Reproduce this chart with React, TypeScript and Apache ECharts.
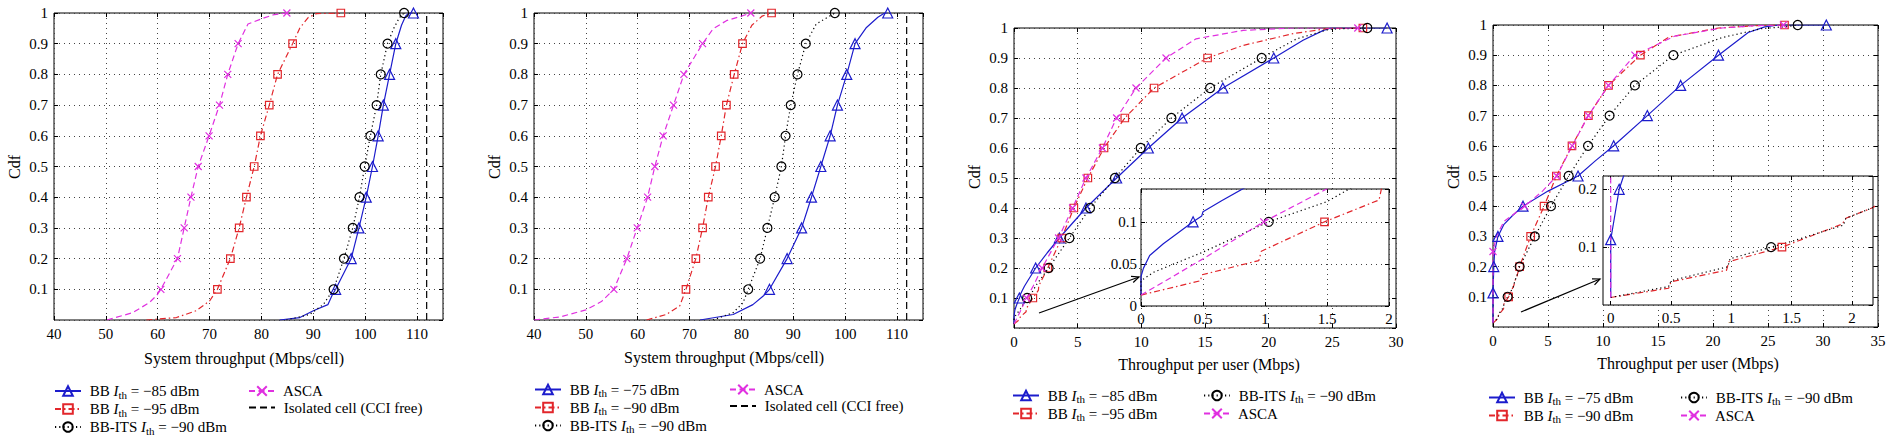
import React, { useEffect, useRef } from 'react';
import * as echarts from 'echarts';

type P = [number, number];

// ---------------- Panel 1 (System throughput, set A) ----------------
const p1Bb85Line: P[] = [[83.5, 0], [87.4, 0.008], [90, 0.03], [92.8, 0.05], [93.6, 0.08], [107, 0.96], [107.8, 0.99], [108.4, 1]];
const p1Bb85Marks: P[] = [[94.3, 0.1], [97.3, 0.2], [98.8, 0.3], [100.2, 0.4], [101.4, 0.5], [102.5, 0.6], [103.5, 0.7], [104.7, 0.8], [105.9, 0.9], [109.3, 1]];
const p1Bb95Line: P[] = [[57.8, 0], [63.6, 0.008], [67.4, 0.03], [70, 0.062], [87.4, 0.951], [89, 0.985], [90.6, 0.998]];
const p1Bb95Marks: P[] = [[71.5, 0.1], [74, 0.2], [75.7, 0.3], [77.1, 0.4], [78.6, 0.5], [79.8, 0.6], [81.5, 0.7], [83.1, 0.8], [86, 0.9], [95.3, 1]];
const p1ItsLine: P[] = [[84.8, 0], [89.3, 0.018], [91.9, 0.05], [105.5, 0.95], [106.6, 0.985]];
const p1ItsMarks: P[] = [[93.9, 0.1], [95.9, 0.2], [97.6, 0.3], [98.9, 0.4], [99.9, 0.5], [101, 0.6], [102.2, 0.7], [103, 0.8], [104.3, 0.9], [107.5, 1]];
const p1AscaLine: P[] = [[50.2, 0], [55.2, 0.024], [58.4, 0.057], [59.8, 0.08], [77.4, 0.964], [80.3, 0.983], [82.5, 0.995]];
const p1AscaMarks: P[] = [[60.6, 0.1], [63.8, 0.2], [65.1, 0.3], [66.4, 0.4], [67.8, 0.5], [69.9, 0.6], [71.9, 0.7], [73.5, 0.8], [75.5, 0.9], [84.9, 1]];
const isolatedCell: P[] = [[111.85, 0], [111.85, 1]];

// ---------------- Panel 2 (System throughput, set B) ----------------
const p2Bb75Line: P[] = [[72, 0], [78.4, 0.018], [82.2, 0.05], [84.2, 0.078], [104.1, 0.953], [106.3, 0.986], [107.6, 1]];
const p2Bb75Marks: P[] = [[85.4, 0.1], [88.8, 0.2], [91.6, 0.3], [93.5, 0.4], [95.3, 0.5], [97.1, 0.6], [98.5, 0.7], [100.3, 0.8], [101.9, 0.9], [108.2, 1]];
const p2Bb90Line: P[] = [[61.7, 0], [65.5, 0.018], [68.1, 0.046], [82, 0.96], [84, 0.99]];
const p2Bb90Marks: P[] = [[69.3, 0.1], [71.2, 0.2], [72.5, 0.3], [73.6, 0.4], [75, 0.5], [76.1, 0.6], [77.1, 0.7], [78.6, 0.8], [80.2, 0.9], [85.8, 1]];
const p2ItsLine: P[] = [[74.5, 0], [78.4, 0.024], [80.3, 0.056], [94.4, 0.964], [97, 0.99]];
const p2ItsMarks: P[] = [[81.3, 0.1], [83.6, 0.2], [85, 0.3], [86.4, 0.4], [87.7, 0.5], [88.5, 0.6], [89.5, 0.7], [90.8, 0.8], [92.4, 0.9], [98, 1]];
const p2AscaLine: P[] = [[40, 0], [45, 0.01], [50, 0.033], [53, 0.06], [74.5, 0.948], [77.1, 0.975], [80, 0.99]];
const p2AscaMarks: P[] = [[55.4, 0.1], [57.9, 0.2], [59.9, 0.3], [61.9, 0.4], [63.3, 0.5], [64.9, 0.6], [66.9, 0.7], [68.9, 0.8], [72.5, 0.9], [81.8, 1]];

// ---------------- Panel 3 (Throughput per user, set A) ----------------
const p3Bb85Line: P[] = [[0, 0.013], [0, 0.035], [0.02, 0.045], [0.07, 0.06], [0.18, 0.074], [0.3, 0.087], [0.49, 0.107], [0.5, 0.112], [0.65, 0.125], [0.83, 0.14], [2.6, 0.25], [22.7, 0.959], [24.3, 0.992], [24.9, 1]];
const p3Bb85Marks: P[] = [[0.42, 0.1], [1.7, 0.2], [3.56, 0.3], [5.65, 0.4], [8.06, 0.5], [10.55, 0.6], [13.2, 0.7], [16.4, 0.8], [20.4, 0.9], [29.3, 1]];
const p3Bb95Line: P[] = [[0, 0.013], [0.48, 0.03], [0.49, 0.037], [0.95, 0.054], [0.97, 0.065], [1.92, 0.126], [1.94, 0.14], [18, 0.942], [21.9, 0.981], [24.6, 0.998]];
const p3Bb95Marks: P[] = [[1.48, 0.1], [2.65, 0.2], [3.75, 0.3], [4.7, 0.4], [5.8, 0.5], [7.07, 0.6], [8.7, 0.7], [11, 0.8], [15.2, 0.9], [27.4, 1]];
const p3ItsLine: P[] = [[0, 0.013], [0, 0.03], [0.1, 0.04], [0.5, 0.064], [1.5, 0.124], [1.69, 0.14], [22.2, 0.964], [24.8, 0.996]];
const p3ItsMarks: P[] = [[1.03, 0.1], [2.72, 0.2], [4.35, 0.3], [5.97, 0.4], [7.93, 0.5], [9.95, 0.6], [12.36, 0.7], [15.4, 0.8], [19.45, 0.9], [27.75, 1]];
const p3AscaLine: P[] = [[0, 0.013], [0.5, 0.056], [1.51, 0.14], [14.3, 0.964], [18, 0.992], [21.9, 1]];
const p3AscaMarks: P[] = [[0.99, 0.1], [2.2, 0.2], [3.5, 0.3], [4.6, 0.4], [5.65, 0.5], [6.94, 0.6], [8.06, 0.7], [9.58, 0.8], [11.94, 0.9], [27, 1]];

// ---------------- Panel 4 (Throughput per user, set B) ----------------
const p4Bb75Line: P[] = [[0, 0.013], [0.03, 0.15], [0.15, 0.25], [1, 0.34], [1.8, 0.37], [5, 0.45], [9.3, 0.55], [23.2, 0.975], [24.7, 0.994], [26, 1]];
const p4Bb75Marks: P[] = [[0, 0.113], [0.07, 0.2], [0.45, 0.3], [2.73, 0.4], [7.73, 0.5], [10.97, 0.6], [14.03, 0.7], [17.06, 0.8], [20.5, 0.9], [30.3, 1]];
const p4Bb90Line: P[] = [[0, 0.013], [0.48, 0.029], [0.5, 0.04], [0.96, 0.06], [0.98, 0.075], [1.92, 0.14], [1.95, 0.15], [2.17, 0.168], [16, 0.96], [20.5, 0.99], [24, 0.998]];
const p4Bb90Marks: P[] = [[1.42, 0.1], [2.42, 0.2], [3.42, 0.3], [4.64, 0.4], [5.76, 0.5], [7.18, 0.6], [8.67, 0.7], [10.5, 0.8], [13.4, 0.9], [26.5, 1]];
const p4ItsLine: P[] = [[0, 0.013], [0.48, 0.032], [0.5, 0.042], [0.97, 0.066], [0.99, 0.08], [1.5, 0.11], [1.93, 0.138], [1.95, 0.15], [2.17, 0.168], [20.8, 0.958], [24.4, 0.988], [26.8, 0.995]];
const p4ItsMarks: P[] = [[1.33, 0.1], [2.42, 0.2], [3.8, 0.3], [5.27, 0.4], [6.88, 0.5], [8.64, 0.6], [10.6, 0.7], [12.9, 0.8], [16.4, 0.9], [27.7, 1]];
const p4AscaLine: P[] = [[0, 0.013], [0.3, 0.3], [1, 0.35], [4.5, 0.45], [16.5, 0.963], [20.8, 0.99], [24, 0.998]];
const p4AscaMarks: P[] = [[0, 0.25], [2.88, 0.4], [5.8, 0.5], [7.2, 0.6], [8.67, 0.7], [10.5, 0.8], [12.9, 0.9], [26.4, 1]];

// inset tick labels (panel 4 inset axis starts slightly left of 0)
const inset4XTicks = [0, 0.5, 1, 1.5, 2];

// ---------------- Names ----------------
const N_BB85 = 'BB Ith = −85 dBm';
const N_BB95 = 'BB Ith = −95 dBm';
const N_BB75 = 'BB Ith = −75 dBm';
const N_BB90 = 'BB Ith = −90 dBm';
const N_ITS = 'BB-ITS Ith = −90 dBm';
const N_ASCA = 'ASCA';
const N_ISO = 'Isolated cell (CCI free)';

const X_NAME_CELL = 'System throughput (Mbps/cell)';
const X_NAME_USER = 'Throughput per user (Mbps)';
const Y_NAME = 'Cdf';

const FONT = "'Liberation Serif', 'DejaVu Serif', serif";
const BLUE = '#1c1ccc';
const RED = '#e2262b';
const BLACK = '#000000';
const MAGENTA = '#e030e0';

type Sty = { color: string; dash: any; symbol: string; size: number };
const S_BB1: Sty = { color: BLUE, dash: 'solid', symbol: 'triangle', size: 10 };
const S_BB2: Sty = { color: RED, dash: [6, 3, 1.5, 3], symbol: 'rect', size: 7.5 };
const S_ITS: Sty = { color: BLACK, dash: [1.2, 3], symbol: 'circle', size: 9 };
const S_ASCA: Sty = { color: MAGENTA, dash: [6, 3.5], symbol: 'path://M0,0L10,10M10,0L0,10', size: 7 };

function merge(line: P[], marks: P[]) {
  const items: any[] = [
    ...line.map((p) => ({ value: p, symbol: 'none' })),
    ...marks.map((p) => ({ value: p })),
  ];
  items.sort((a, b) => a.value[1] - b.value[1] || a.value[0] - b.value[0]);
  return items;
}

export default function App() {
  const ref = useRef<HTMLDivElement>(null);
  useEffect(() => {
    if (!ref.current) return;
    const chart = echarts.init(ref.current, undefined, { renderer: 'svg' });

    const grids: any[] = [];
    const xAxes: any[] = [];
    const yAxes: any[] = [];
    const series: any[] = [];
    const texts: any[] = [];

    const labelStyle = { color: '#000', fontFamily: FONT, fontSize: 15, fontWeight: 'normal' };
    const tick = { show: true, inside: true, length: 4, lineStyle: { color: '#000', width: 1 } };
    const split = { show: true, lineStyle: { color: '#444', width: 1, type: [1, 4] } };

    const addText = (text: string, x: number, y: number, rotation = 0) => {
      texts.push({
        type: 'text', x, y, rotation, z: 100, silent: true,
        style: { text, fill: '#000', fontFamily: FONT, fontSize: 16, fontWeight: 'normal', align: 'center', verticalAlign: 'middle', textAlign: 'center', textVerticalAlign: 'middle' },
      });
    };

    function addGrid(c: any) {
      const gi = grids.length;
      const z = c.z;
      grids.push({ left: c.left, top: c.top, width: c.width, height: c.height, show: true, borderColor: '#000', borderWidth: 1, backgroundColor: '#fff', z });
      const xi = xAxes.length;
      const xLabel: any = { ...labelStyle, margin: c.xMargin ?? 6, showMinLabel: c.xShowMin ?? true, showMaxLabel: c.xShowMax ?? true };
      const xTick: any = { ...tick };
      if (c.xCustom) {
        xLabel.customValues = c.xCustom;
        xTick.customValues = c.xCustom;
      }
      const xb: any = {
        type: 'value', gridIndex: gi, position: 'bottom', min: c.xmin, max: c.xmax, z: z + 1,
        axisLine: { show: false, onZero: false }, axisTick: xTick,
        axisLabel: xLabel,
        splitLine: split,
      };
      if (c.xint !== undefined) xb.interval = c.xint;
      const xt: any = { ...xb, position: 'top', axisLabel: { show: false }, splitLine: { show: false } };
      xAxes.push(xb, xt);
      const yi = yAxes.length;
      const yl: any = {
        type: 'value', gridIndex: gi, position: 'left', min: c.ymin, max: c.ymax, interval: c.yint, z: z + 1,
        axisLine: { show: false, onZero: false }, axisTick: tick,
        axisLabel: { ...labelStyle, margin: c.yMargin ?? 6, showMinLabel: c.yShowMin ?? false, showMaxLabel: c.yShowMax ?? true },
        splitLine: split,
      };
      const yr: any = { ...yl, position: 'right', axisLabel: { show: false }, splitLine: { show: false } };
      yAxes.push(yl, yr);
      if (c.xname) addText(c.xname, c.xnx, c.xny);
      if (c.yname) addText(c.yname, c.ynx, c.yny, Math.PI / 2);
      return { xi, yi, z };
    }

    function addLine(ax: any, name: string, s: Sty, line: P[], marks: P[]) {
      series.push({
        type: 'line', name, xAxisIndex: ax.xi, yAxisIndex: ax.yi, z: ax.z + 2,
        data: merge(line, marks), symbol: s.symbol, symbolSize: s.size, showSymbol: true, showAllSymbol: true,
        lineStyle: { color: s.color, width: 1.2, type: s.dash },
        itemStyle: { color: 'rgba(255,255,255,0)', borderColor: s.color, borderWidth: 1.2 },
        emphasis: { disabled: true }, silent: true, clip: true, animation: false,
      });
    }
    function addIso(ax: any) {
      series.push({
        type: 'line', name: N_ISO, xAxisIndex: ax.xi, yAxisIndex: ax.yi, z: ax.z + 2,
        data: isolatedCell, symbol: 'none', showSymbol: false,
        lineStyle: { color: BLACK, width: 1.2, type: [7, 4] },
        itemStyle: { color: 'rgba(0,0,0,0)', borderColor: 'rgba(0,0,0,0)', borderWidth: 0 },
        emphasis: { disabled: true }, silent: true, animation: false,
      });
    }

    // Panel 1
    const a1 = addGrid({ left: 54, top: 13, width: 389, height: 307, xmin: 40, xmax: 115, xint: 10, xShowMax: false, ymin: 0, ymax: 1, yint: 0.1, xname: X_NAME_CELL, xnx: 244, xny: 358, yname: Y_NAME, ynx: 14, yny: 167, z: 0 });
    addLine(a1, N_BB85, S_BB1, p1Bb85Line, p1Bb85Marks);
    addLine(a1, N_BB95, S_BB2, p1Bb95Line, p1Bb95Marks);
    addLine(a1, N_ITS, S_ITS, p1ItsLine, p1ItsMarks);
    addLine(a1, N_ASCA, S_ASCA, p1AscaLine, p1AscaMarks);
    addIso(a1);

    // Panel 2
    const a2 = addGrid({ left: 534, top: 13, width: 389, height: 307, xmin: 40, xmax: 115, xint: 10, xShowMax: false, ymin: 0, ymax: 1, yint: 0.1, xname: X_NAME_CELL, xnx: 724, xny: 357, yname: Y_NAME, ynx: 494, yny: 167, z: 0 });
    addLine(a2, N_BB75, S_BB1, p2Bb75Line, p2Bb75Marks);
    addLine(a2, N_BB90, S_BB2, p2Bb90Line, p2Bb90Marks);
    addLine(a2, N_ITS, S_ITS, p2ItsLine, p2ItsMarks);
    addLine(a2, N_ASCA, S_ASCA, p2AscaLine, p2AscaMarks);
    addIso(a2);

    // Panel 3
    const a3 = addGrid({ left: 1014, top: 28, width: 382, height: 300, xmin: 0, xmax: 30, xint: 5, ymin: 0, ymax: 1, yint: 0.1, xname: X_NAME_USER, xnx: 1209, xny: 364, yname: Y_NAME, ynx: 974, yny: 177, z: 0 });
    addLine(a3, N_BB85, S_BB1, p3Bb85Line, p3Bb85Marks);
    addLine(a3, N_BB95, S_BB2, p3Bb95Line, p3Bb95Marks);
    addLine(a3, N_ITS, S_ITS, p3ItsLine, p3ItsMarks);
    addLine(a3, N_ASCA, S_ASCA, p3AscaLine, p3AscaMarks);
    const i3 = addGrid({ left: 1141, top: 189, width: 248, height: 117, xmin: 0, xmax: 2, xint: 0.5, xMargin: 5, ymin: 0, ymax: 0.139, yint: 0.05, yShowMin: true, yShowMax: false, yMargin: 4, z: 3 });
    addLine(i3, N_BB85, S_BB1, p3Bb85Line, p3Bb85Marks);
    addLine(i3, N_BB95, S_BB2, p3Bb95Line, p3Bb95Marks);
    addLine(i3, N_ITS, S_ITS, p3ItsLine, p3ItsMarks);
    addLine(i3, N_ASCA, S_ASCA, p3AscaLine, p3AscaMarks);

    // Panel 4
    const a4 = addGrid({ left: 1493, top: 25, width: 385, height: 302, xmin: 0, xmax: 35, xint: 5, ymin: 0, ymax: 1, yint: 0.1, xname: X_NAME_USER, xnx: 1688, xny: 363, yname: Y_NAME, ynx: 1453, yny: 177, z: 0 });
    addLine(a4, N_BB75, S_BB1, p4Bb75Line, p4Bb75Marks);
    addLine(a4, N_BB90, S_BB2, p4Bb90Line, p4Bb90Marks);
    addLine(a4, N_ITS, S_ITS, p4ItsLine, p4ItsMarks);
    addLine(a4, N_ASCA, S_ASCA, p4AscaLine, p4AscaMarks);
    const i4 = addGrid({ left: 1603, top: 176, width: 270, height: 129, xmin: -0.064, xmax: 2.175, xCustom: inset4XTicks, xMargin: 5, ymin: 0, ymax: 0.223, yint: 0.1, yShowMin: false, yShowMax: false, yMargin: 6, z: 3 });
    addLine(i4, N_BB75, S_BB1, p4Bb75Line, p4Bb75Marks);
    addLine(i4, N_BB90, S_BB2, p4Bb90Line, p4Bb90Marks);
    addLine(i4, N_ITS, S_ITS, p4ItsLine, p4ItsMarks);
    addLine(i4, N_ASCA, S_ASCA, p4AscaLine, p4AscaMarks);

    const fmt = (name: string) => {
      const k = name.indexOf('Ith');
      if (k < 0) return `{a| ${name}}`;
      return `{a| ${name.slice(0, k)}}{i|I}{s|th}{a|${name.slice(k + 3)}}`;
    };
    const rich = {
      a: { fontFamily: FONT, fontSize: 15, color: '#000', lineHeight: 18 },
      i: { fontFamily: FONT, fontSize: 15, color: '#000', fontStyle: 'italic', lineHeight: 18 },
      s: { fontFamily: FONT, fontSize: 11, color: '#000', lineHeight: 10, verticalAlign: 'bottom' },
    };
    const legendItem = (n: string) =>
      n === N_ISO ? { name: n, itemStyle: { opacity: 0 } } : { name: n };
    const legend = (left: number, top: number, data: string[]) => ({
      orient: 'vertical', left, top, padding: 0, itemGap: 1.5, itemWidth: 26, itemHeight: 12,
      selectedMode: false, data: data.map(legendItem), formatter: fmt,
      textStyle: { fontFamily: FONT, fontSize: 15, color: '#000', rich },
    });

    const arrow = (x1: number, y1: number, x2: number, y2: number) => {
      const ang = Math.atan2(y2 - y1, x2 - x1);
      const L = 8, a = 0.42;
      const p1 = [x2 - L * Math.cos(ang - a), y2 - L * Math.sin(ang - a)];
      const p2 = [x2 - L * Math.cos(ang + a), y2 - L * Math.sin(ang + a)];
      return [
        { type: 'line', z: 100, shape: { x1, y1, x2, y2 }, style: { stroke: '#000', lineWidth: 1.2 } },
        { type: 'polyline', z: 100, shape: { points: [p1, [x2, y2], p2] }, style: { stroke: '#000', fill: null, lineWidth: 1.2 } },
      ];
    };

    chart.setOption({
      animation: false,
      backgroundColor: '#fff',
      grid: grids,
      xAxis: xAxes,
      yAxis: yAxes,
      series,
      legend: [
        legend(54, 383.5, [N_BB85, N_BB95, N_ITS]),
        legend(248, 383.5, [N_ASCA, N_ISO]),
        legend(534, 382, [N_BB75, N_BB90, N_ITS]),
        legend(729, 382, [N_ASCA, N_ISO]),
        legend(1012, 388, [N_BB85, N_BB95]),
        legend(1203, 388, [N_ITS, N_ASCA]),
        legend(1488, 390, [N_BB75, N_BB90]),
        legend(1680, 390, [N_ITS, N_ASCA]),
      ],
      graphic: [...texts, ...arrow(1039, 313, 1139, 277), ...arrow(1521, 312, 1600, 279)],
    });
    return () => chart.dispose();
  }, []);
  return <div ref={ref} style={{ position: 'fixed', left: 0, top: 0, width: 1891, height: 445 }} />;
}
